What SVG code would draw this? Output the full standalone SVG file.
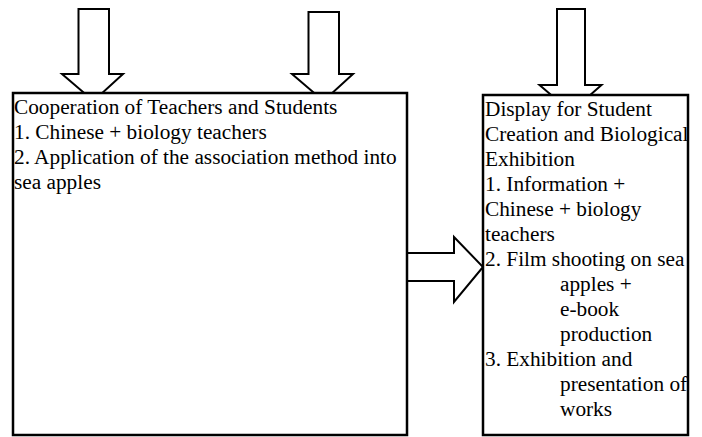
<svg xmlns="http://www.w3.org/2000/svg" width="702" height="437" viewBox="0 0 702 437">
<style>
.arrow{fill:#fff;stroke:#000;stroke-width:2;stroke-linejoin:miter}
.box{fill:#fff;stroke:#000;stroke-width:2.5}
text{font-family:"Liberation Serif","Times New Roman",serif;font-size:21.3px;fill:#000}
</style>
<rect width="702" height="437" fill="#fff"/>
<g id="connectors">
<polygon class="arrow" points="78.5,9 109,9 109,74 123,74 93.5,101 62,74 78.5,74"/>
<polygon class="arrow" points="308.5,12 339,12 339,74 353,74 323.5,101 292,74 308.5,74"/>
<polygon class="arrow" points="557,9 585,9 585,85 601.5,85 571,112 539.5,85 557,85"/>
<polygon class="arrow" points="407,253 454,253 454,237 483,267 454,302 454,281 407,281"/>
</g>
<g id="node-left">
<rect class="box" x="13" y="93" width="394" height="342"/>
<text x="14" y="114">Cooperation of Teachers and Students</text>
<text x="14" y="139">1. Chinese + biology teachers</text>
<text x="14" y="164">2. Application of the association method into</text>
<text x="14" y="189">sea apples</text>
</g>
<g id="node-right">
<rect class="box" x="483" y="95" width="205" height="340"/>
<text x="485" y="116">Display for Student</text>
<text x="485" y="141">Creation and Biological</text>
<text x="485" y="166">Exhibition</text>
<text x="485" y="191">1. Information +</text>
<text x="485" y="216">Chinese + biology</text>
<text x="485" y="241">teachers</text>
<text x="485" y="266">2. Film shooting on sea</text>
<text x="560" y="291">apples +</text>
<text x="560" y="316">e-book</text>
<text x="560" y="341">production</text>
<text x="485" y="366">3. Exhibition and</text>
<text x="560" y="391">presentation of</text>
<text x="560" y="416">works</text>
</g>
</svg>
